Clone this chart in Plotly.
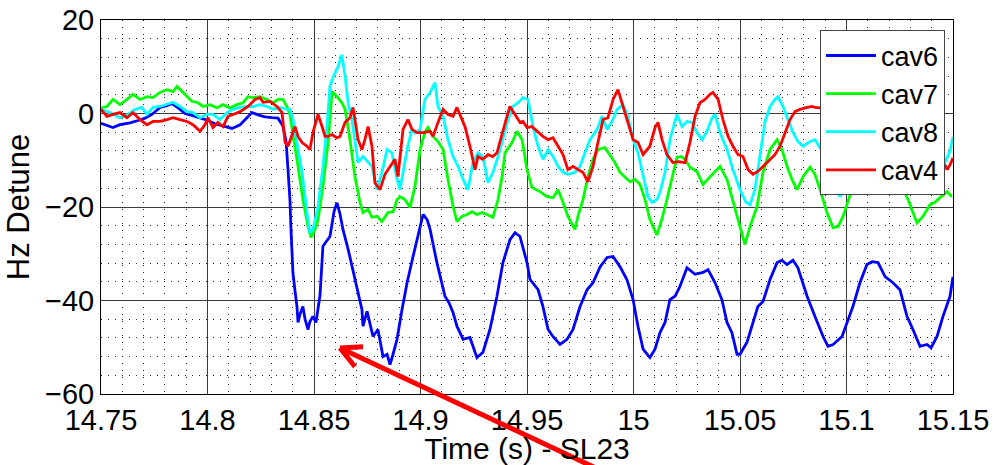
import plotly.graph_objects as go

# ---- cavity detune traces (time in s, detune in Hz) ----
cav6_t = [14.7500, 14.7528, 14.7556, 14.7589, 14.7636, 14.7674, 14.7707, 14.7739, 14.7777, 14.7805,
          14.7833, 14.7862, 14.7894, 14.7927, 14.7965, 14.7998, 14.8035, 14.8068, 14.8115, 14.8153,
          14.8181, 14.8209, 14.8237, 14.8270, 14.8303, 14.8331, 14.8354, 14.8369, 14.8378, 14.8387,
          14.8392, 14.8401, 14.8411, 14.8420, 14.8425, 14.8434, 14.8448, 14.8458, 14.8472, 14.8481,
          14.8495, 14.8509, 14.8528, 14.8542, 14.8556, 14.8575, 14.8594, 14.8608, 14.8622, 14.8636,
          14.8660, 14.8683, 14.8707, 14.8725, 14.8730, 14.8749, 14.8763, 14.8777, 14.8800, 14.8824,
          14.8843, 14.8857, 14.8871, 14.8890, 14.8913, 14.8937, 14.8965, 14.8984, 14.8998, 14.9012,
          14.9031, 14.9045, 14.9077, 14.9096, 14.9115, 14.9134, 14.9153, 14.9171, 14.9200, 14.9232,
          14.9265, 14.9293, 14.9326, 14.9359, 14.9387, 14.9420, 14.9444, 14.9467, 14.9500, 14.9514,
          14.9552, 14.9575, 14.9599, 14.9622, 14.9655, 14.9688, 14.9716, 14.9749, 14.9782, 14.9810,
          14.9843, 14.9876, 14.9904, 14.9937, 14.9969, 14.9998, 15.0021, 15.0045, 15.0077, 15.0101,
          15.0124, 15.0148, 15.0171, 15.0195, 15.0218, 15.0251, 15.0289, 15.0326, 15.0350, 15.0383,
          15.0415, 15.0439, 15.0462, 15.0486, 15.0500, 15.0533, 15.0556, 15.0584, 15.0608, 15.0641,
          15.0674, 15.0697, 15.0721, 15.0749, 15.0772, 15.0815, 15.0852, 15.0890, 15.0913, 15.0937,
          15.0979, 15.1007, 15.1030, 15.1063, 15.1096, 15.1120, 15.1148, 15.1181, 15.1218, 15.1251,
          15.1284, 15.1312, 15.1345, 15.1378, 15.1397, 15.1425, 15.1453, 15.1486, 15.1500]
cav6_hz = [-2.1, -2.6, -3.0, -2.4, -2.0, -1.5, -1.0, -0.2, 1.3, 1.6,
           2.1, 1.2, 0.0, -0.4, -1.0, -1.4, -2.2, -2.6, -3.2, -2.4,
           -1.0, 0.2, -0.3, -0.7, -0.9, -1.0, -2.7, -6.0, -12.0, -18.4,
           -24.8, -34.0, -38.0, -41.3, -44.7, -43.0, -41.3, -44.0, -46.2, -44.5,
           -43.4, -44.7, -39.0, -28.4, -27.5, -26.3, -21.0, -19.1, -21.5, -24.8,
           -29.0, -33.4, -38.0, -41.9, -45.5, -42.3, -45.0, -47.7, -46.2, -52.0,
           -51.5, -53.7, -51.5, -48.3, -42.0, -36.2, -30.6, -27.0, -24.8, -21.6,
           -22.7, -24.8, -31.9, -35.5, -39.1, -40.5, -42.6, -45.5, -48.3, -47.9,
           -52.2, -51.1, -46.2, -39.1, -31.9, -27.0, -25.5, -26.3, -31.9, -35.5,
           -37.7, -41.3, -46.2, -47.7, -49.4, -48.3, -46.2, -41.3, -37.7, -36.2,
           -32.8, -30.8, -30.6, -32.8, -35.5, -39.8, -45.5, -50.4, -52.2, -50.4,
           -46.9, -44.7, -39.8, -39.1, -37.0, -33.0, -34.4, -34.0, -33.4, -36.2,
           -39.8, -44.7, -46.9, -51.5, -51.5, -48.9, -45.5, -41.3, -40.2, -35.5,
           -31.9, -31.4, -32.3, -31.4, -33.0, -39.1, -43.4, -47.7, -49.8, -49.4,
           -47.7, -44.0, -41.3, -36.2, -32.3, -31.7, -31.9, -34.9, -36.2, -37.7,
           -43.4, -46.2, -49.8, -49.4, -50.1, -47.7, -43.4, -39.1, -34.9]

cav7_t = [14.7500, 14.7528, 14.7556, 14.7589, 14.7622, 14.7650, 14.7683, 14.7716, 14.7744, 14.7777,
          14.7810, 14.7838, 14.7857, 14.7880, 14.7904, 14.7927, 14.7955, 14.7979, 14.8012, 14.8045,
          14.8073, 14.8106, 14.8138, 14.8167, 14.8190, 14.8214, 14.8246, 14.8279, 14.8308, 14.8331,
          14.8354, 14.8373, 14.8387, 14.8401, 14.8425, 14.8448, 14.8472, 14.8486, 14.8505, 14.8519,
          14.8542, 14.8566, 14.8585, 14.8608, 14.8631, 14.8646, 14.8669, 14.8692, 14.8716, 14.8730,
          14.8754, 14.8772, 14.8796, 14.8819, 14.8847, 14.8871, 14.8890, 14.8904, 14.8927, 14.8951,
          14.8974, 14.8998, 14.9021, 14.9035, 14.9059, 14.9082, 14.9106, 14.9129, 14.9153, 14.9171,
          14.9195, 14.9218, 14.9242, 14.9265, 14.9289, 14.9312, 14.9340, 14.9364, 14.9383, 14.9397,
          14.9430, 14.9453, 14.9477, 14.9500, 14.9523, 14.9561, 14.9594, 14.9622, 14.9646, 14.9669,
          14.9692, 14.9725, 14.9739, 14.9763, 14.9786, 14.9810, 14.9833, 14.9866, 14.9890, 14.9913,
          14.9937, 14.9960, 14.9984, 15.0007, 15.0031, 15.0054, 15.0077, 15.0110, 15.0134, 15.0157,
          15.0181, 15.0204, 15.0223, 15.0242, 15.0265, 15.0298, 15.0326, 15.0359, 15.0406, 15.0439,
          15.0462, 15.0477, 15.0500, 15.0523, 15.0547, 15.0580, 15.0608, 15.0641, 15.0674, 15.0697,
          15.0721, 15.0744, 15.0768, 15.0796, 15.0829, 15.0852, 15.0876, 15.0908, 15.0937, 15.0960,
          15.0984, 15.1007, 15.1030, 15.1073, 15.1120, 15.1167, 15.1204, 15.1251, 15.1289, 15.1331,
          15.1359, 15.1392, 15.1415, 15.1439, 15.1472, 15.1495]
cav7_hz = [1.2, 1.5, 3.0, 1.9, 3.0, 4.1, 3.0, 3.6, 3.4, 4.5,
           5.1, 4.7, 5.8, 4.7, 3.6, 2.6, 2.3, 1.5, 1.9, 1.2,
           1.9, 1.2, 1.9, 2.3, 3.6, 3.4, 3.6, 3.0, 2.3, 3.0,
           3.0, 1.5, -0.2, -4.0, -11.3, -18.4, -24.2, -26.5, -24.8, -22.7,
           -15.6, -6.2, 4.7, 3.6, 2.3, 0.9, -5.6, -13.5, -19.0, -21.2,
           -20.5, -22.2, -22.0, -23.1, -21.2, -21.0, -18.4, -17.8, -18.4, -20.1,
           -15.6, -7.7, -4.0, -3.0, -4.9, -6.0, -7.7, -14.1, -19.9, -23.1,
           -22.0, -21.6, -21.0, -21.6, -21.2, -21.6, -22.2, -18.4, -13.5, -8.4,
           -6.2, -3.8, -5.6, -12.0, -15.8, -16.7, -17.8, -18.0, -16.3, -19.0,
           -22.0, -24.8, -22.0, -18.4, -13.5, -9.8, -7.7, -7.3, -8.8, -10.5,
           -12.6, -13.5, -14.6, -14.1, -15.2, -18.4, -22.7, -26.0, -22.5, -18.4,
           -13.5, -9.4, -9.2, -9.8, -11.5, -12.4, -15.2, -13.5, -11.3, -14.1,
           -17.8, -20.5, -24.0, -28.0, -24.2, -19.9, -12.6, -7.7, -5.6, -7.7,
           -11.3, -14.1, -16.3, -13.5, -11.5, -13.0, -16.3, -21.2, -24.4, -24.2,
           -22.0, -19.0, -15.6, -9.0, -6.0, -9.0, -13.0, -14.8, -18.4, -23.4,
           -22.0, -19.5, -19.0, -18.0, -16.7, -17.8]

cav8_t = [14.7500, 14.7542, 14.7589, 14.7627, 14.7660, 14.7692, 14.7716, 14.7744, 14.7777, 14.7810,
          14.7838, 14.7871, 14.7904, 14.7932, 14.7965, 14.7998, 14.8026, 14.8059, 14.8092, 14.8120,
          14.8153, 14.8185, 14.8214, 14.8246, 14.8279, 14.8308, 14.8340, 14.8373, 14.8387, 14.8401,
          14.8420, 14.8444, 14.8467, 14.8481, 14.8495, 14.8519, 14.8542, 14.8561, 14.8575, 14.8589,
          14.8613, 14.8631, 14.8646, 14.8660, 14.8678, 14.8692, 14.8707, 14.8730, 14.8754, 14.8772,
          14.8796, 14.8819, 14.8843, 14.8866, 14.8890, 14.8904, 14.8918, 14.8941, 14.8960, 14.8974,
          14.8998, 14.9021, 14.9045, 14.9068, 14.9082, 14.9106, 14.9129, 14.9153, 14.9176, 14.9200,
          14.9223, 14.9246, 14.9270, 14.9293, 14.9317, 14.9340, 14.9364, 14.9387, 14.9411, 14.9434,
          14.9458, 14.9481, 14.9505, 14.9528, 14.9552, 14.9575, 14.9599, 14.9622, 14.9646, 14.9669,
          14.9692, 14.9725, 14.9749, 14.9772, 14.9796, 14.9829, 14.9852, 14.9876, 14.9899, 14.9923,
          14.9951, 14.9974, 14.9998, 15.0021, 15.0045, 15.0068, 15.0087, 15.0110, 15.0124, 15.0148,
          15.0171, 15.0204, 15.0228, 15.0251, 15.0275, 15.0298, 15.0322, 15.0345, 15.0369, 15.0383,
          15.0406, 15.0439, 15.0467, 15.0500, 15.0528, 15.0547, 15.0570, 15.0594, 15.0617, 15.0641,
          15.0664, 15.0678, 15.0702, 15.0725, 15.0749, 15.0772, 15.0796, 15.0829, 15.0852, 15.0885,
          15.0913, 15.0946, 15.0969, 15.0993, 15.1026, 15.1073, 15.1120, 15.1167, 15.1228, 15.1298,
          15.1369, 15.1439, 15.1462, 15.1486, 15.1500]
cav8_hz = [0.9, 0.2, -0.9, -0.2, 0.9, 1.3, -0.2, 1.3, 1.5, 1.9,
           2.4, 1.5, 0.4, 0.2, -0.9, -0.2, -0.2, -1.3, 0.2, 0.9,
           1.3, 1.5, 1.5, 1.9, 1.5, 0.9, 1.3, 0.9, 0.9, -1.3,
           -6.2, -12.6, -21.2, -25.5, -24.8, -19.9, -11.3, -2.8, 5.8, 7.7,
           10.0, 12.6, 8.0, 2.3, -1.3, -6.2, -10.5, -9.2, -10.5, -11.3,
           -16.3, -12.6, -7.7, -8.4, -14.1, -16.3, -12.6, -6.9, -3.4, -4.1,
           -3.4, 3.0, 4.5, 6.6, 1.5, -0.6, -5.6, -9.2, -11.3, -14.1,
           -16.3, -10.5, -8.4, -9.2, -14.8, -12.6, -9.2, -5.6, -1.3, 1.5,
           2.3, 3.4, 3.0, -2.8, -7.0, -9.8, -7.7, -9.2, -11.3, -12.6,
           -13.0, -12.6, -11.3, -8.4, -5.6, -3.4, -0.6, -3.4, -1.7, 0.9,
           1.9, -0.6, -5.6, -8.4, -13.5, -17.8, -19.0, -18.4, -16.9, -12.6,
           -5.6, -0.2, -2.8, -1.7, -1.9, -4.1, -5.6, -3.8, -0.9, -0.2,
           -4.1, -7.7, -12.0, -16.3, -19.0, -19.5, -16.3, -9.2, -1.9, 1.5,
           3.0, 3.6, 1.5, -1.3, -4.1, -6.0, -7.0, -6.0, -5.6, -8.0,
           -12.0, -15.6, -17.8, -15.8, -9.0, -2.0, 0.0, -3.0, -8.0, -12.0,
           -11.0, -9.0, -10.5, -8.0, -5.0]

cav4_t = [14.7500, 14.7528, 14.7556, 14.7589, 14.7622, 14.7650, 14.7683, 14.7716, 14.7744, 14.7777,
          14.7810, 14.7838, 14.7871, 14.7904, 14.7932, 14.7965, 14.7988, 14.8002, 14.8026, 14.8049,
          14.8073, 14.8096, 14.8120, 14.8153, 14.8190, 14.8223, 14.8246, 14.8261, 14.8293, 14.8326,
          14.8350, 14.8364, 14.8378, 14.8397, 14.8411, 14.8425, 14.8444, 14.8467, 14.8481, 14.8495,
          14.8519, 14.8538, 14.8552, 14.8566, 14.8585, 14.8608, 14.8622, 14.8646, 14.8669, 14.8683,
          14.8692, 14.8707, 14.8725, 14.8739, 14.8754, 14.8772, 14.8786, 14.8810, 14.8833, 14.8857,
          14.8880, 14.8894, 14.8918, 14.8941, 14.8960, 14.8984, 14.9012, 14.9045, 14.9059, 14.9082,
          14.9106, 14.9129, 14.9153, 14.9171, 14.9185, 14.9209, 14.9232, 14.9256, 14.9270, 14.9293,
          14.9317, 14.9340, 14.9359, 14.9383, 14.9406, 14.9420, 14.9444, 14.9467, 14.9481, 14.9500,
          14.9523, 14.9547, 14.9575, 14.9599, 14.9622, 14.9646, 14.9669, 14.9692, 14.9716, 14.9739,
          14.9763, 14.9786, 14.9810, 14.9833, 14.9857, 14.9880, 14.9904, 14.9927, 14.9951, 14.9974,
          14.9998, 15.0021, 15.0045, 15.0077, 15.0101, 15.0115, 15.0134, 15.0157, 15.0185, 15.0209,
          15.0242, 15.0265, 15.0289, 15.0312, 15.0336, 15.0359, 15.0373, 15.0397, 15.0420, 15.0444,
          15.0467, 15.0491, 15.0514, 15.0538, 15.0561, 15.0584, 15.0608, 15.0641, 15.0664, 15.0688,
          15.0711, 15.0735, 15.0758, 15.0782, 15.0815, 15.0838, 15.0852, 15.0923, 15.1016, 15.1110,
          15.1204, 15.1298, 15.1392, 15.1462, 15.1472, 15.1486, 15.1500]
cav4_hz = [0.9, -0.6, -0.2, 0.2, -0.9, 0.2, -1.3, -2.4, -1.7, -1.7,
           -1.3, -0.9, -1.3, -1.7, -2.4, -3.8, -2.4, -0.9, -3.0, -1.9,
           -2.8, -0.6, -0.2, 0.4, 1.5, 3.0, 3.4, 2.4, 2.6, 1.5,
           0.2, -6.2, -7.0, -4.5, -2.8, -4.9, -6.2, -7.0, -7.7, -4.1,
           -0.2, -2.8, -4.9, -4.9, -4.5, -5.2, -4.9, -1.9, -0.9, 1.3,
           -1.3, -5.6, -7.7, -5.6, -2.8, -7.0, -14.8, -16.3, -13.0, -11.5,
           -9.8, -13.5, -3.4, -1.3, -3.4, -4.1, -4.1, -3.8, -4.9, -1.9,
           0.9, -0.2, -0.6, 1.3, -0.2, -2.8, -7.0, -12.0, -9.2, -9.8,
           -8.8, -9.2, -8.4, -4.1, -0.6, 1.5, -0.2, -1.9, -1.7, -3.0,
           -2.8, -3.8, -4.9, -5.6, -5.2, -7.0, -8.8, -12.0, -11.3, -12.0,
           -12.6, -14.6, -11.3, -6.2, -1.3, -0.9, 3.0, 5.1, 1.5, -2.4,
           -5.6, -6.2, -8.8, -7.0, -3.0, -1.9, -5.6, -8.8, -10.5, -10.3,
           -10.5, -6.2, -0.6, 2.3, 3.0, 4.1, 4.5, 3.0, -1.3, -4.9,
           -7.0, -8.8, -9.2, -12.0, -13.0, -12.4, -11.3, -9.8, -8.8, -7.0,
           -4.1, -1.3, 0.4, 0.9, 1.3, 1.5, 1.3, 1.0, -1.0, -3.0,
           -5.0, -7.0, -9.0, -11.0, -12.0, -11.0, -9.5]

x_tick_vals = [14.75, 14.8, 14.85, 14.9, 14.95, 15.0, 15.05, 15.1, 15.15]
x_tick_text = ["14.75", "14.8", "14.85", "14.9", "14.95", "15", "15.05", "15.1", "15.15"]
y_tick_vals = [-60, -40, -20, 0, 20]

series = [
    ("cav6", cav6_t, cav6_hz, "#0000ff"),
    ("cav7", cav7_t, cav7_hz, "#00ff00"),
    ("cav8", cav8_t, cav8_hz, "#00ffff"),
    ("cav4", cav4_t, cav4_hz, "#ff0000"),
]

FONT = "Liberation Sans, Arial, Helvetica, sans-serif"

fig = go.Figure()
for name, t, hz, color in series:
    fig.add_trace(go.Scatter(x=t, y=hz, mode="lines", name=name,
                             line=dict(color=color, width=2.8)))

axis_common = dict(
    showline=True, linecolor="#000000", linewidth=1, mirror=True,
    showgrid=True, gridcolor="#3a3a3a", gridwidth=1,
    zeroline=False, ticks="",
    tickfont=dict(family=FONT, size=29, color="#000000"),
)

fig.update_xaxes(
    range=[14.75, 15.15], tickvals=x_tick_vals, ticktext=x_tick_text,
    minor=dict(dtick=0.01, showgrid=True, gridcolor="#222222", griddash="1px,6px", gridwidth=1),
    title=dict(text="Time (s) - SL23", font=dict(family=FONT, size=30, color="#000000"), standoff=5),
    **axis_common,
)
fig.update_yaxes(
    range=[-60, 20], tickvals=y_tick_vals,
    minor=dict(dtick=4, showgrid=True, gridcolor="#222222", griddash="1px,6px", gridwidth=1),
    title=dict(text="Hz Detune", font=dict(family=FONT, size=31, color="#000000"), standoff=6),
    **axis_common,
)

# red pointer arrow (open head) toward the first cav6 trough
arrow = dict(type="line", xref="paper", yref="paper", line=dict(color="#ff0000", width=5))
fig.add_shape(x0=0.5857, y0=-0.2032, x1=0.2805, y1=0.1230, **arrow)
fig.add_shape(x0=0.2805, y0=0.1230, x1=0.3075, y1=0.1265, **arrow)
fig.add_shape(x0=0.2805, y0=0.1230, x1=0.2981, y1=0.0730, **arrow)

fig.update_layout(
    width=996, height=465,
    margin=dict(l=101, r=43, t=20, b=71, autoexpand=False),
    paper_bgcolor="#ffffff", plot_bgcolor="#ffffff",
    font=dict(family=FONT, color="#000000"),
    showlegend=True,
    legend=dict(
        x=0.9906, xanchor="right", y=0.972, yanchor="top",
        bgcolor="#ffffff", bordercolor="#444444", borderwidth=1,
        font=dict(family=FONT, size=27, color="#000000"),
        itemwidth=50, tracegroupgap=0,
    ),
)

fig.write_html("out.html")
